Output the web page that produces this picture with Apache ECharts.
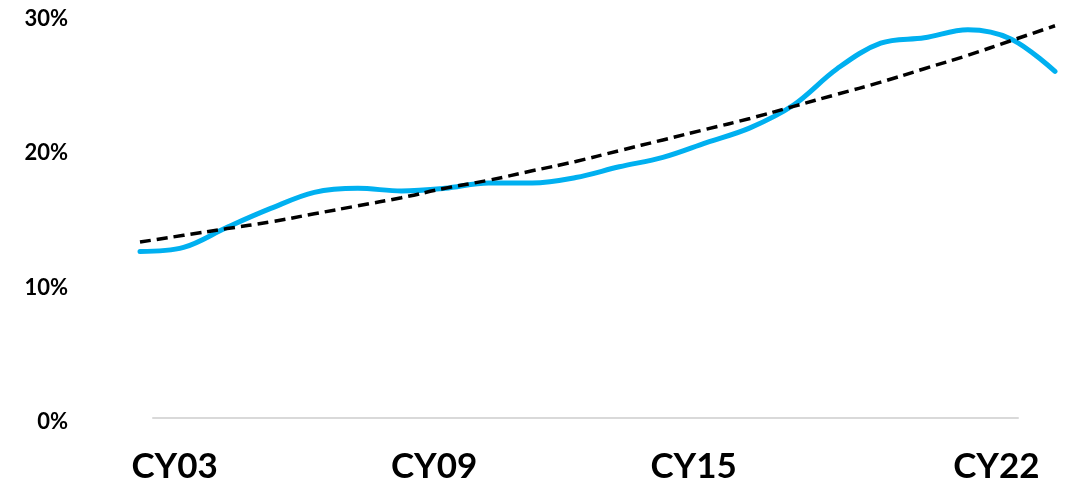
<!DOCTYPE html>
<html>
<head>
<meta charset="utf-8">
<script src="https://cdn.jsdelivr.net/npm/echarts@6/dist/echarts.min.js"></script>
<style>
  html, body { margin: 0; padding: 0; background: #fff; }
  #chart { width: 1069px; height: 485px; }
</style>
</head>
<body>
<div id="chart"></div>
<script>
// Axis categories shown under the chart (calendar years)
const axisYears = ['CY03','CY04','CY05','CY06','CY07','CY08','CY09','CY10','CY11','CY12',
                   'CY13','CY14','CY15','CY16','CY17','CY18','CY19','CY20','CY21','CY22'];
// Which axis categories carry a visible label
const labelledYears = ['CY03','CY09','CY15','CY22'];

// Yearly points of the series (share, %)
const seriesYears = ['CY02','CY03','CY04','CY05','CY06','CY07','CY08','CY09','CY10','CY11','CY12',
                     'CY13','CY14','CY15','CY16','CY17','CY18','CY19','CY20','CY21','CY22','CY23'];
const shareValues = [12.4, 12.7, 14.2, 15.6, 16.8, 17.1, 16.9, 17.1, 17.5, 17.5, 17.9,
                     18.7, 19.4, 20.5, 21.6, 23.3, 26.0, 27.9, 28.3, 28.9, 28.2, 25.8];
// Fitted trend through the series (%)
const trendValues = [13.1, 13.6, 14.1, 14.6, 15.2, 15.8, 16.4, 17.1, 17.7, 18.4, 19.1,
                     19.9, 20.7, 21.5, 22.3, 23.2, 24.1, 25.0, 26.0, 27.0, 28.1, 29.2];

// Y axis ticks
const yTicks = [0, 10, 20, 30];

const FONT = 'Lato';
const TOP = 15, BOTTOM = 67;

const chart = echarts.init(document.getElementById('chart'), null, { renderer: 'canvas' });

chart.setOption({
  animation: false,
  backgroundColor: '#ffffff',
  grid: [
    { left: 153, right: 51, top: TOP, bottom: BOTTOM },
    { left: 140, right: 14, top: TOP, bottom: BOTTOM }
  ],
  xAxis: [
    {
      gridIndex: 0,
      type: 'category',
      data: axisYears,
      boundaryGap: true,
      axisLine: { show: true, lineStyle: { color: '#d9d9d9', width: 2 } },
      axisTick: { show: false },
      axisLabel: {
        interval: (idx, val) => labelledYears.includes(val),
        margin: 31,
        fontFamily: FONT,
        fontWeight: 'bold',
        fontSize: 35,
        color: '#000'
      },
      splitLine: { show: false }
    },
    {
      gridIndex: 1,
      type: 'category',
      data: seriesYears,
      boundaryGap: false,
      show: false
    }
  ],
  yAxis: [
    {
      gridIndex: 0,
      type: 'value',
      min: yTicks[0],
      max: yTicks[yTicks.length - 1],
      interval: 10,
      axisLine: { show: false },
      axisTick: { show: false },
      splitLine: { show: false },
      axisLabel: {
        margin: 85,
        formatter: v => v + '%',
        fontFamily: FONT,
        fontWeight: 'bold',
        fontSize: 22,
        color: '#000',
        verticalAlign: 'top',
        lineHeight: 8
      }
    },
    {
      gridIndex: 1,
      type: 'value',
      min: yTicks[0],
      max: yTicks[yTicks.length - 1],
      show: false
    }
  ],
  series: [
    {
      name: 'Share',
      type: 'line',
      xAxisIndex: 1,
      yAxisIndex: 1,
      data: shareValues,
      smooth: 0.35,
      symbol: 'none',
      lineStyle: { color: '#00b0f0', width: 5, cap: 'round' },
      z: 2
    },
    {
      name: 'Trend',
      type: 'line',
      xAxisIndex: 1,
      yAxisIndex: 1,
      data: trendValues,
      smooth: true,
      symbol: 'none',
      lineStyle: { color: '#000', width: 3.5, type: [11, 6] },
      z: 3
    }
  ]
});
</script>
</body>
</html>
